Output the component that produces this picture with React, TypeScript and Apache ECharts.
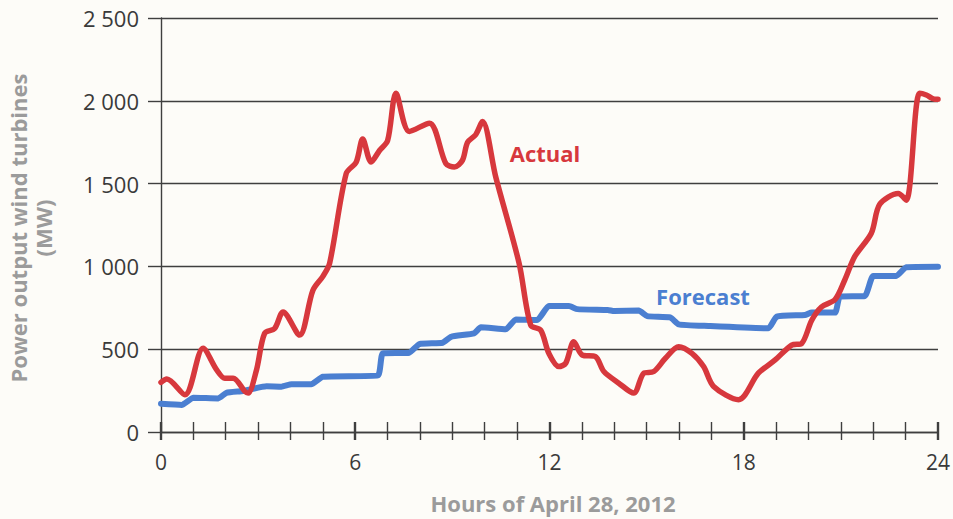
import React, { useEffect, useRef } from "react";
import * as echarts from "echarts";

// Hours of the day and measured power output (MW)
const actualHours = [
  0, 0.18, 0.74, 1.3, 1.72, 1.97, 2.23, 2.59, 2.69, 2.95, 3.2, 3.51, 3.77, 4.28, 4.69, 5.0, 5.21,
  5.72, 6.03, 6.23, 6.49, 6.75, 7.0, 7.26, 7.67, 8.29, 8.8, 9.06, 9.31, 9.47, 9.72, 9.93, 10.34,
  11.06, 11.42, 11.73, 11.98, 12.29, 12.5, 12.75, 13.01, 13.42, 13.68, 14.14, 14.6, 14.91, 15.22,
  15.58, 15.99, 16.4, 16.76, 17.07, 17.84, 18.45, 18.97, 19.48, 19.79, 20.1, 20.4, 20.82, 21.12,
  21.43, 21.94, 22.2, 22.77, 23.02, 23.43, 23.64, 23.9, 24,
];
const actualMW = [
  300, 320, 225, 505, 375, 325, 325, 245, 235, 375, 595, 625, 725, 585, 855, 940, 1020,
  1560, 1630, 1770, 1630, 1700, 1760, 2045, 1815, 1865, 1620, 1600, 1640, 1750, 1795, 1875, 1540,
  1020, 645, 615, 475, 395, 415, 545, 465, 455, 365, 295, 235, 355, 365,
  445, 515, 475, 395, 275, 195, 355, 435, 525, 535, 675, 755, 800, 918,
  1060, 1200, 1375, 1440, 1400, 2045, 2035, 2010, 2010,
];

// Forecast power output (MW)
const forecastHours = [
  0, 0.64, 1.0, 1.77, 2.02, 2.54, 3.26, 3.72, 4.03, 4.64, 5.0, 6.7, 6.85, 7.67, 7.98, 8.7, 8.96,
  9.67, 9.88, 10.65, 10.96, 11.62, 11.98, 12.6, 12.86, 13.8, 14.0, 14.76, 15.02, 15.73, 15.99,
  16.91, 18.76, 19.02, 19.89, 20.1, 20.82, 20.97, 21.74, 22.0, 22.71, 23.02, 24,
];
const forecastMW = [
  170, 163, 207, 203, 237, 248, 276, 274, 288, 288, 334, 342, 475, 479, 531, 539, 575,
  596, 632, 620, 680, 676, 761, 761, 742, 737, 730, 733, 700, 692, 650,
  640, 626, 697, 707, 721, 721, 817, 821, 942, 942, 995, 998,
];

const yTicks = [0, 500, 1000, 1500, 2000, 2500];
const xTickLabels = [0, 6, 12, 18, 24];

const RED = "#d7383d";
const BLUE = "#4b7fd1";
const AXIS = "#3f3f3f";
const FONT = "'Open Sans', 'Noto Sans', sans-serif";

export default function App() {
  const ref = useRef<HTMLDivElement>(null);

  useEffect(() => {
    if (!ref.current) return;
    const chart = echarts.init(ref.current, undefined, { renderer: "svg" });

    const fmtY = (v: number) => (v >= 1000 ? String(v).replace(/(\d)(\d{3})$/, "$1 $2") : String(v));

    const tickStyle = (inside: boolean) => ({
      show: true,
      inside,
      length: inside ? 10 : 8,
      lineStyle: { color: AXIS, width: 2.4 },
    });
    const minorStyle = (inside: boolean) => ({
      show: true,
      splitNumber: 6,
      length: inside ? 10 : 8,
      lineStyle: { color: AXIS, width: 1.4 },
    });

    chart.setOption({
      animation: false,
      backgroundColor: "#fdfcf8",
      grid: { left: 161, right: 13, top: 18, bottom: 87, containLabel: false },
      xAxis: [
        {
          type: "value",
          min: 0,
          max: 24,
          interval: 6,
          axisLine: { show: true, lineStyle: { color: AXIS, width: 1.4 } },
          axisTick: tickStyle(false),
          minorTick: minorStyle(false),
          splitLine: { show: false },
          axisLabel: {
            color: "#3a3a3a",
            fontSize: 21,
            fontFamily: FONT,
            margin: 19,
            formatter: (v: number) => (xTickLabels.includes(v) ? String(v) : ""),
          },
        },
        {
          type: "value",
          min: 0,
          max: 24,
          interval: 6,
          position: "bottom",
          axisLine: { show: false },
          axisTick: tickStyle(true),
          minorTick: minorStyle(true),
          splitLine: { show: false },
          axisLabel: { show: false },
        },
      ],
      yAxis: {
        type: "value",
        min: 0,
        max: 2500,
        interval: 500,
        axisLine: { show: true, lineStyle: { color: AXIS, width: 1.4 } },
        axisTick: { show: true, length: 13, lineStyle: { color: AXIS, width: 1.4 } },
        splitLine: { show: true, lineStyle: { color: AXIS, width: 1.3 } },
        axisLabel: {
          color: "#3a3a3a",
          fontSize: 22,
          fontFamily: FONT,
          margin: 22,
          formatter: (v: number) => (yTicks.includes(v) ? fmtY(v) : ""),
        },
      },
      series: [
        {
          name: "Forecast",
          type: "line",
          xAxisIndex: 0,
          data: forecastHours.map((h, i) => [h, forecastMW[i]]),
          showSymbol: false,
          smooth: 0.15,
          lineStyle: { color: BLUE, width: 6, join: "round", cap: "round" },
          z: 3,
        },
        {
          name: "Actual",
          type: "line",
          xAxisIndex: 0,
          data: actualHours.map((h, i) => [h, actualMW[i]]),
          showSymbol: false,
          smooth: 0.3,
          lineStyle: { color: RED, width: 5.5, join: "round", cap: "round" },
          z: 4,
        },
      ],
      graphic: [
        {
          type: "text",
          x: 30,
          y: 228,
          rotation: Math.PI / 2,
          style: {
            text: "Power output wind turbines\n(MW)",
            fill: "#9b9b9b",
            font: `bold 22px ${FONT}`,
            align: "center",
            verticalAlign: "middle",
            lineHeight: 25,
          },
        },
        {
          type: "text",
          x: 553,
          y: 503,
          style: {
            text: "Hours of April 28, 2012",
            fill: "#9b9b9b",
            font: `bold 22px ${FONT}`,
            align: "center",
            verticalAlign: "middle",
          },
        },
        {
          type: "text",
          x: 545,
          y: 153,
          style: {
            text: "Actual",
            fill: RED,
            font: `bold 22px ${FONT}`,
            align: "center",
            verticalAlign: "middle",
          },
        },
        {
          type: "text",
          x: 703,
          y: 296,
          style: {
            text: "Forecast",
            fill: BLUE,
            font: `bold 22px ${FONT}`,
            align: "center",
            verticalAlign: "middle",
          },
        },
      ],
    });

    return () => chart.dispose();
  }, []);

  return (
    <div
      ref={ref}
      style={{ position: "absolute", left: 0, top: 0, width: 953, height: 519 }}
    />
  );
}
